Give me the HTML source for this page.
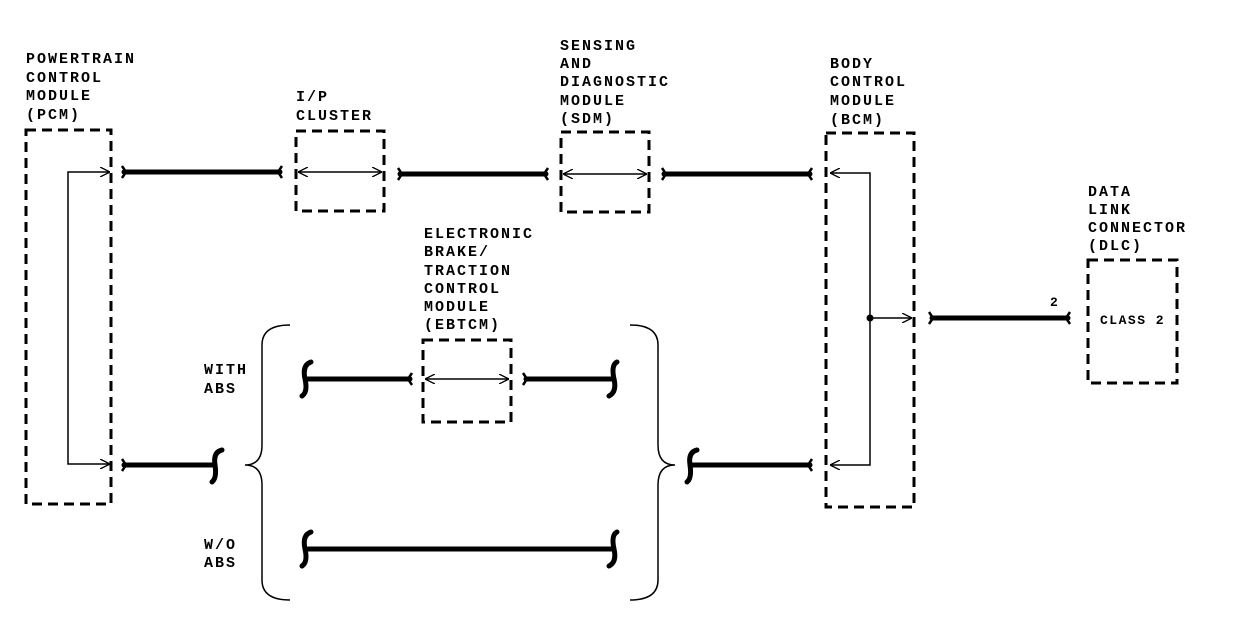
<!DOCTYPE html>
<html><head><style>html,body{margin:0;padding:0;background:#fff}svg{display:block}
text{font-family:"Liberation Mono",monospace;font-size:15px;font-weight:bold;letter-spacing:2px;fill:#000}</style></head>
<body>
<svg width="1248" height="636" viewBox="0 0 1248 636" xmlns="http://www.w3.org/2000/svg">
<defs>
<marker id="a" viewBox="0 0 10 10" refX="10" refY="5" markerWidth="10" markerHeight="10" orient="auto-start-reverse" markerUnits="userSpaceOnUse"><path d="M0,0 L10,5 L0,10" fill="none" stroke="#000" stroke-width="1.3"/></marker>
</defs>
<g fill="none" stroke="#000" stroke-width="3" stroke-dasharray="10,6">
<rect x="26" y="130" width="85" height="374"/>
<rect x="296" y="131" width="88" height="80"/>
<rect x="561" y="132" width="88" height="80"/>
<rect x="826" y="133" width="88" height="374"/>
<rect x="1088" y="260" width="89" height="123"/>
<rect x="423" y="340" width="88" height="82"/>
</g>
<g fill="none" stroke="#000" stroke-width="1.5">
<polyline points="110,172 68,172 68,464 110,464" marker-start="url(#a)" marker-end="url(#a)"/>
<line x1="298" y1="172" x2="382" y2="172" marker-start="url(#a)" marker-end="url(#a)"/>
<line x1="563" y1="174" x2="647" y2="174" marker-start="url(#a)" marker-end="url(#a)"/>
<line x1="425" y1="379" x2="509" y2="379" marker-start="url(#a)" marker-end="url(#a)"/>
<polyline points="830,173 870,173 870,465 830,465" marker-start="url(#a)" marker-end="url(#a)"/>
<line x1="870" y1="318" x2="912" y2="318" marker-end="url(#a)"/>
<path d="M290,325 Q262,325 262,345 L262,445 Q262,465 245,465 Q262,465 262,485 L262,580 Q262,600 290,600"/>
<path d="M630,325 Q658,325 658,345 L658,445 Q658,465 675,465 Q658,465 658,485 L658,580 Q658,600 630,600"/>
</g>
<circle cx="870" cy="318" r="3.5" fill="#000"/>
<g stroke="#000" stroke-width="5" fill="none" stroke-linecap="round">
<line x1="124" y1="172" x2="280" y2="172"/>
<line x1="400" y1="174" x2="546" y2="174"/>
<line x1="664" y1="174" x2="810" y2="174"/>
<line x1="932" y1="318" x2="1068" y2="318"/>
<line x1="124" y1="465" x2="215" y2="465"/>
<line x1="692" y1="465" x2="810" y2="465"/>
<line x1="308" y1="379" x2="410" y2="379"/>
<line x1="526" y1="379" x2="614" y2="379"/>
<line x1="308" y1="549" x2="614" y2="549"/>
</g>
<g stroke="#000" stroke-width="5" fill="none" stroke-linecap="round">
<path d="M222,450 Q213,452 215,465 Q217,478 212,482"/>
<path d="M311,362 Q302,365 305,379 Q308,392 302,396"/>
<path d="M617,362 Q611,365 614,379 Q617,392 609,396"/>
<path d="M311,532 Q302,535 305,549 Q308,562 302,566"/>
<path d="M617,532 Q611,535 614,549 Q617,562 609,566"/>
<path d="M697,450 Q688,452 690,465 Q692,478 687,482"/>
</g>
<g stroke="#000" stroke-width="2.5" fill="none">
<path d="M122,166 L126,172 L122,178"/><path d="M282,166 L278,172 L282,178"/>
<path d="M398,168 L402,174 L398,180"/><path d="M548,168 L544,174 L548,180"/>
<path d="M662,168 L666,174 L662,180"/><path d="M812,168 L808,174 L812,180"/>
<path d="M929,312 L933,318 L929,324"/><path d="M1070,312 L1066,318 L1070,324"/>
<path d="M122,459 L126,465 L122,471"/><path d="M812,459 L808,465 L812,471"/>
<path d="M412,373 L408,379 L412,385"/><path d="M523,373 L527,379 L523,385"/>
</g>
<text x="26" y="63">POWERTRAIN</text><text x="26" y="82">CONTROL</text><text x="26" y="100">MODULE</text><text x="26" y="119">(PCM)</text>
<text x="296" y="101">I/P</text><text x="296" y="120">CLUSTER</text>
<text x="560" y="50">SENSING</text><text x="560" y="68">AND</text><text x="560" y="86">DIAGNOSTIC</text><text x="560" y="105">MODULE</text><text x="560" y="123">(SDM)</text>
<text x="830" y="68">BODY</text><text x="830" y="86">CONTROL</text><text x="830" y="105">MODULE</text><text x="830" y="124">(BCM)</text>
<text x="1088" y="196">DATA</text><text x="1088" y="214">LINK</text><text x="1088" y="232">CONNECTOR</text><text x="1088" y="250">(DLC)</text>
<text x="1100" y="324" style="font-size:13px;letter-spacing:1.5px">CLASS 2</text>
<text x="1050" y="306" style="font-size:13px">2</text>
<text x="424" y="238">ELECTRONIC</text><text x="424" y="256">BRAKE/</text><text x="424" y="275">TRACTION</text><text x="424" y="293">CONTROL</text><text x="424" y="311">MODULE</text><text x="424" y="329">(EBTCM)</text>
<text x="204" y="374">WITH</text><text x="204" y="393">ABS</text>
<text x="204" y="549">W/O</text><text x="204" y="567">ABS</text>
</svg>
</body></html>
